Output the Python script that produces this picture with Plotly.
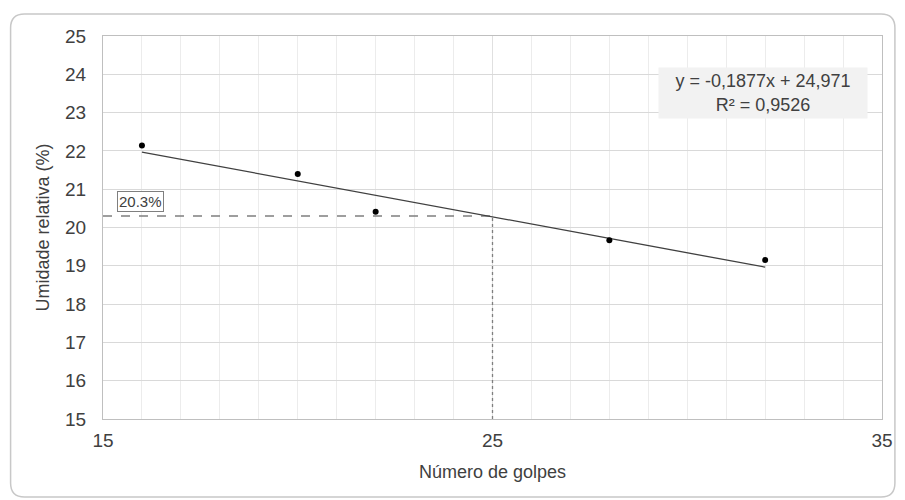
import plotly.graph_objects as go

# Data
golpes = [16, 20, 22, 28, 32]
umidade = [22.14, 21.40, 20.41, 19.67, 19.15]
slope = -0.1877
intercept = 24.971
r2 = 0.9526
target_x = 25
target_y = 20.3
x_ticks = [15, 25, 35]
y_ticks = list(range(15, 26))

trend_x = [min(golpes), max(golpes)]
trend_y = [slope * v + intercept for v in trend_x]

FONT = "Liberation Sans, Arial, sans-serif"

fig = go.Figure()

# reference lines
fig.add_trace(go.Scatter(x=[15, target_x], y=[target_y, target_y], mode="lines",
                         line=dict(color="#7f7f7f", width=1.3, dash="dash"),
                         hoverinfo="skip", showlegend=False))
fig.add_trace(go.Scatter(x=[target_x, target_x], y=[15, target_y], mode="lines",
                         line=dict(color="#7f7f7f", width=1.3, dash="dot"),
                         hoverinfo="skip", showlegend=False))
# trend line
fig.add_trace(go.Scatter(x=trend_x, y=trend_y, mode="lines",
                         line=dict(color="#404040", width=1.3),
                         hoverinfo="skip", showlegend=False))
# points
fig.add_trace(go.Scatter(x=golpes, y=umidade, mode="markers",
                         marker=dict(color="#000000", size=6),
                         showlegend=False))

fmt = lambda v: str(v).replace('.', ',')
# equation box
fig.add_annotation(x=0.847, y=0.851, xref="paper", yref="paper",
                   text=f"y = {fmt(slope)}x + {fmt(intercept)}<br>R² = {fmt(r2)}",
                   showarrow=False, align="center",
                   font=dict(family=FONT, size=18, color="#404040"),
                   bgcolor="#f2f2f2", borderpad=2, width=204, height=46,
                   xanchor="center", yanchor="middle")
# 20.3% label
fig.add_annotation(x=15.97, y=20.69, xref="x", yref="y",
                   text=f"{target_y}%", showarrow=False,
                   font=dict(family=FONT, size=15, color="#404040"),
                   bgcolor="white", bordercolor="#7f7f7f", borderwidth=1, borderpad=1)

# outer rounded border
x0, x1 = (10 - 103) / 784, (900 - 103) / 784
y0, y1 = (419 - 497) / 383, (419 - 14) / 383
rx, ry = 14 / 784, 14 / 383
path = (f"M {x0+rx},{y1} L {x1-rx},{y1} Q {x1},{y1} {x1},{y1-ry} "
        f"L {x1},{y0+ry} Q {x1},{y0} {x1-rx},{y0} L {x0+rx},{y0} "
        f"Q {x0},{y0} {x0},{y0+ry} L {x0},{y1-ry} Q {x0},{y1} {x0+rx},{y1} Z")
fig.add_shape(type="path", path=path, xref="paper", yref="paper",
              line=dict(color="#c8c8c8", width=1.5), layer="below")

fig.update_layout(
    width=905, height=500,
    margin=dict(l=103, r=18, t=36, b=81),
    paper_bgcolor="white", plot_bgcolor="white",
    font=dict(family=FONT, color="#404040"),
    showlegend=False,
)
fig.update_xaxes(range=[15, 35], tickvals=x_ticks, ticks="",
                 tickfont=dict(size=19, color="#404040"),
                 showgrid=True, gridcolor="#e0e0e0", gridwidth=1,
                 minor=dict(dtick=1, showgrid=True, gridcolor="#ececec", gridwidth=1),
                 showline=True, linecolor="#bfbfbf", linewidth=1, mirror=True,
                 zeroline=False, ticklabelstandoff=4,
                 title=dict(text="Número de golpes", font=dict(size=18, color="#404040"), standoff=15))
fig.update_yaxes(range=[15, 25], tickvals=y_ticks, ticks="",
                 tickfont=dict(size=19, color="#404040"),
                 showgrid=True, gridcolor="#d9d9d9", gridwidth=1,
                 showline=True, linecolor="#bfbfbf", linewidth=1, mirror=True,
                 zeroline=False, ticklabelstandoff=12,
                 title=dict(text="Umidade relativa (%)", font=dict(size=18, color="#404040"), standoff=10))

fig.write_html("out.html", config={"displayModeBar": False})
with open("out.html", "r", encoding="utf-8") as f:
    html = f.read()
html = html.replace("<body>", '<body style="margin:0;padding:0;overflow:hidden">', 1)
with open("out.html", "w", encoding="utf-8") as f:
    f.write(html)
